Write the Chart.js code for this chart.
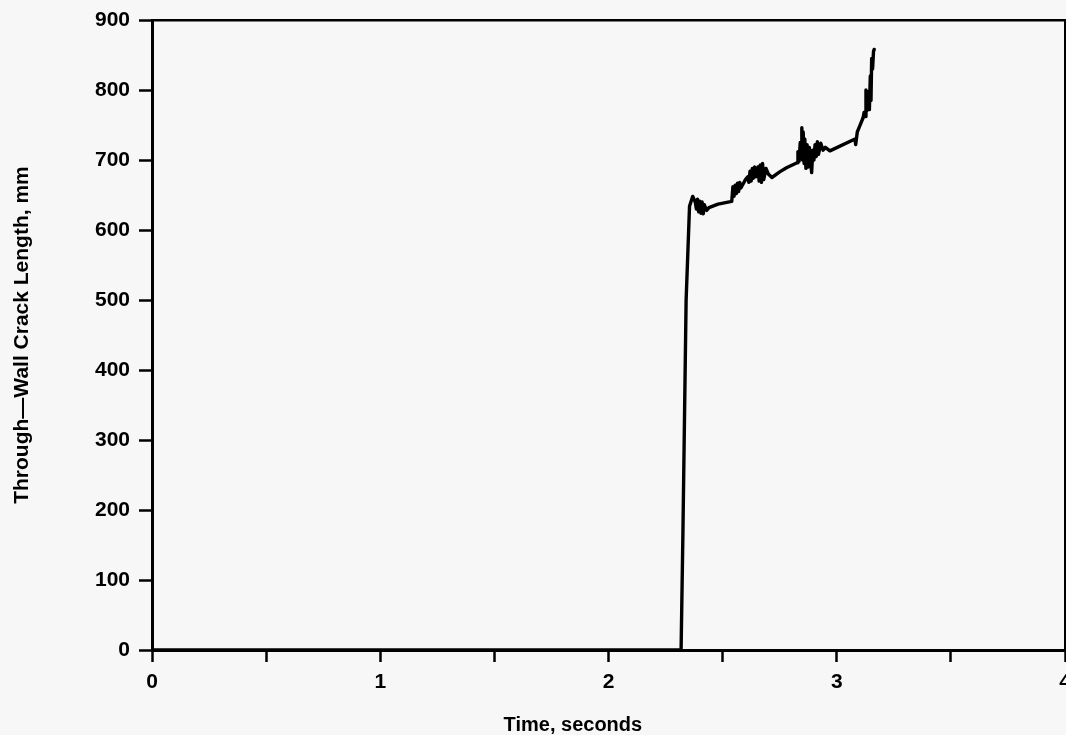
<!DOCTYPE html>
<html>
<head>
<meta charset="utf-8">
<script src="https://cdn.jsdelivr.net/npm/chart.js@4.4.1/dist/chart.umd.min.js"></script>
<style>
  html, body { margin: 0; padding: 0; background: #f7f7f7; }
  #wrap { width: 1066px; height: 735px; position: relative; }
</style>
</head>
<body>
<div id="wrap"><canvas id="c"></canvas></div>
<script>
// Time, seconds
const timeS = [
  0, 2.318, 2.326, 2.340, 2.355, 2.369,
  2.38, 2.385, 2.39, 2.395, 2.40, 2.405, 2.41, 2.415, 2.42, 2.43, 2.44,
  2.48, 2.54, 2.545, 2.55, 2.555, 2.56, 2.565, 2.57, 2.575, 2.58,
  2.60, 2.61, 2.615, 2.62, 2.625, 2.63, 2.635, 2.64, 2.645, 2.655, 2.66, 2.665, 2.67, 2.675,
  2.68, 2.69, 2.70, 2.716, 2.75, 2.78, 2.826, 2.83, 2.835, 2.84, 2.845, 2.847, 2.85, 2.853,
  2.857, 2.86, 2.865, 2.87, 2.875, 2.88, 2.885, 2.89, 2.895, 2.90, 2.905, 2.91, 2.915, 2.92,
  2.93, 2.94, 2.95, 2.97, 3.08, 3.083, 3.09, 3.10, 3.115, 3.12, 3.125, 3.128, 3.131, 3.134,
  3.137, 3.14, 3.143, 3.147, 3.15, 3.153, 3.157, 3.161, 3.164
];
// Through-wall crack length, mm
const crackMm = [
  0, 0, 166, 499, 634, 648,
  640, 630, 644, 626, 641, 624, 640, 623, 636, 628, 632,
  637, 641, 662, 648, 664, 652, 667, 655, 668, 660,
  672, 676, 668, 684, 670, 688, 674, 690, 676, 690, 670, 693, 668, 695,
  672, 688, 680, 675, 683, 689, 696, 712, 698, 725, 705, 746, 700, 740,
  695, 730, 688, 722, 690, 718, 700, 682, 714, 700, 722, 705, 726, 708,
  724, 714, 718, 713, 730, 722, 740, 748, 760, 768, 762, 800, 770, 798,
  775, 790, 772, 820, 785, 845, 830, 855, 858
];
const xTickValues = [0, 1, 2, 3, 4];
const yTickStep = 100;
const xTitle = 'Time, seconds';
const yTitle = 'Through\u2014Wall Crack Length, mm';

const points = timeS.map((t, i) => ({ x: t, y: crackMm[i] }));
const FONT = "'Liberation Sans', Arial, sans-serif";

// x-axis title drawn slightly left of the axis centre, as in the original figure
const xTitlePlugin = {
  id: 'xTitlePlugin',
  afterDraw(chart) {
    const { ctx, chartArea } = chart;
    ctx.save();
    ctx.font = "bold 20px " + FONT;
    ctx.fillStyle = '#000';
    ctx.textAlign = 'center';
    ctx.textBaseline = 'middle';
    const cx = chartArea.left + (chartArea.right - chartArea.left) * 0.461;
    ctx.fillText(xTitle, cx, chart.height - 10);
    ctx.restore();
  }
};

new Chart(document.getElementById('c'), {
  type: 'line',
  data: {
    datasets: [{
      data: points,
      borderColor: '#000',
      borderWidth: 3.4,
      borderJoinStyle: 'round',
      borderCapStyle: 'round',
      pointRadius: 0,
      tension: 0,
      fill: false
    }]
  },
  plugins: [xTitlePlugin],
  options: {
    responsive: true,
    maintainAspectRatio: false,
    animation: false,
    layout: { padding: { left: 0, right: 1, top: 20, bottom: 0 } },
    plugins: { legend: { display: false }, tooltip: { enabled: false } },
    scales: {
      x: {
        type: 'linear',
        position: 'bottom',
        min: 0, max: 4,
        ticks: {
          stepSize: 0.5,
          autoSkip: false,
          maxRotation: 0,
          padding: 8,
          color: '#000',
          font: { family: FONT, size: 21, weight: 'bold' },
          callback: (v) => xTickValues.includes(v) ? String(v) : ''
        },
        grid: { drawOnChartArea: false, tickLength: 12, tickWidth: 2.5, tickColor: '#000' },
        border: { display: true, width: 3, color: '#000' },
        title: { display: false, text: xTitle },
        afterFit: (s) => { s.height = 85; s.paddingLeft = 0; s.paddingRight = 0; }
      },
      y: {
        position: 'left',
        min: 0, max: 900,
        ticks: {
          stepSize: yTickStep,
          padding: 9,
          color: '#000',
          font: { family: FONT, size: 21, weight: 'bold' }
        },
        grid: { drawOnChartArea: false, tickLength: 13, tickWidth: 2.5, tickColor: '#000' },
        border: { display: true, width: 3, color: '#000' },
        title: {
          display: true,
          text: yTitle,
          color: '#000',
          font: { family: FONT, size: 21, weight: 'bold', lineHeight: 1 },
          padding: { top: 12, bottom: 0 }
        },
        afterFit: (s) => { s.width = 152; s.paddingTop = 0; s.paddingBottom = 0; }
      },
      xTop: {
        type: 'linear',
        position: 'top',
        min: 0, max: 4,
        ticks: { display: false },
        grid: { drawOnChartArea: false, drawTicks: false },
        border: { display: true, width: 2.5, color: '#000' },
        afterFit: (s) => { s.height = 0; s.paddingLeft = 0; s.paddingRight = 0; }
      },
      yRight: {
        position: 'right',
        min: 0, max: 900,
        ticks: { display: false },
        grid: { drawOnChartArea: false, drawTicks: false },
        border: { display: true, width: 2, color: '#000' },
        afterFit: (s) => { s.width = 0; s.paddingTop = 0; s.paddingBottom = 0; }
      }
    }
  }
});
</script>
</body>
</html>
